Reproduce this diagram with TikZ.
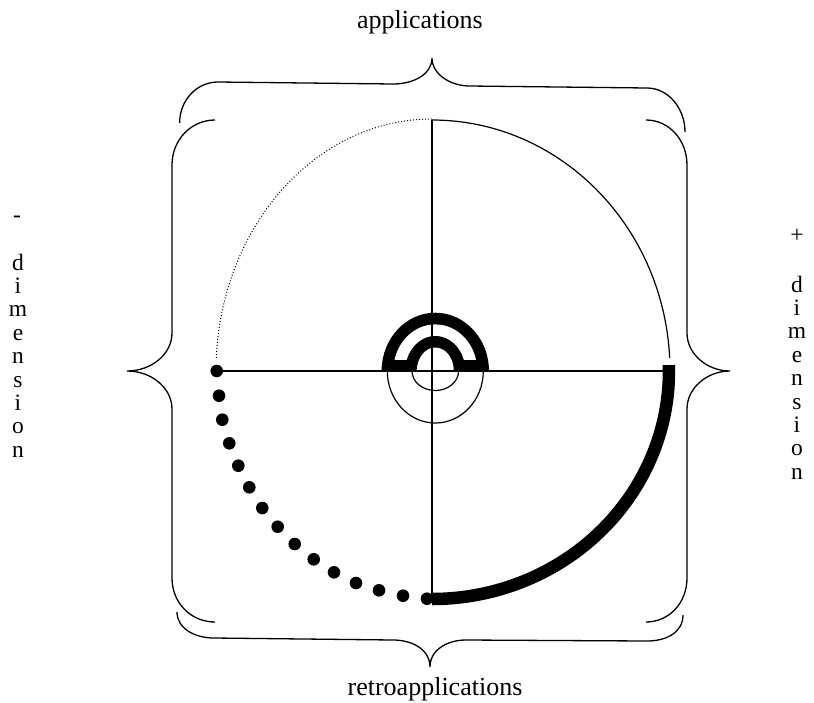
\documentclass[tikz,border=0pt]{standalone}
\usepackage{fontspec}
\setmainfont{Liberation Serif}
\begin{document}
\begin{tikzpicture}[x=1pt,y=-1pt,
  thinline/.style={line width=1.2pt, line cap=butt},
  bracestyle/.style={line width=1.3pt},
  thickarc/.style={line width=12.5pt, line cap=butt},
  lbl/.style={font=\fontsize{26}{30}\selectfont, inner sep=0pt, anchor=base},
  letter/.style={font=\fontsize{23.5}{26}\selectfont, inner sep=0pt, anchor=base}]
\useasboundingbox (0,0) rectangle (814,702);
% key points
\coordinate (C) at (432,371);
\coordinate (L) at (216,371);
\coordinate (R) at (675,371);
\coordinate (T) at (432,120);
\coordinate (B) at (432,603);
% upper-left dotted arc
\draw[line width=1pt, dash pattern=on 1pt off 2pt] (C) ++(183:216 and 252) arc[start angle=183, end angle=270, x radius=216, y radius=252];
% upper-right thin arc
\draw[thinline] (T) arc[start angle=270, end angle=357, x radius=238, y radius=251];
% lower-right thick arc
\draw[thickarc] (C) ++(-1.5:237 and 228) arc[start angle=-1.5, end angle=90, x radius=237, y radius=228];
% lower-left big dots
\foreach \px/\py in {216.7/371,219/395.7,222.3/419.7,229.3/443.3,238.3/465.7,249.3/487.3,262.3/508,277.7/526.7,294.7/544,313.7/559.3,334/572.3,356/583,379/590.3,403/595.7,427/598.7}
  \fill (\px,\py) circle[radius=6.3];
% central figure
\coordinate (M) at (435.3,371);
\fill (M) ++(-53.7,0) arc[start angle=180, end angle=360, x radius=53.7, y radius=58.3] -- cycle;
\begin{scope}
  \clip (0,0) rectangle (814,359.3);
  \fill[white] (M) ++(-42,0) arc[start angle=180, end angle=360, x radius=42, y radius=46.6] -- cycle;
\end{scope}
\fill (M) ++(-30,0) arc[start angle=180, end angle=360, x radius=30, y radius=35] -- cycle;
\fill[white] (M) ++(-18.5,0) arc[start angle=180, end angle=360, x radius=18.5, y radius=23.5] -- cycle;
\draw[thinline] (M) ++(-48,0) arc[start angle=180, end angle=0, x radius=48, y radius=52];
\draw[thinline] (M) ++(-23.3,0) arc[start angle=180, end angle=0, x radius=23.3, y radius=19.5];
% axes
\draw[thinline] (L) -- (R);
\draw[thinline] (T) -- (B);
% braces
\draw[bracestyle] (179.6,123) .. controls (179.6,100) and (197,82) .. (218,82) -- (393,84)
  .. controls (414,84) and (432,74) .. (432,58)
  .. controls (432,74) and (450,86) .. (470,86) -- (647,88)
  .. controls (668,88) and (685,108) .. (685,132);
\draw[bracestyle] (177,612) .. controls (177,628) and (194,638) .. (214,638) -- (393,640)
  .. controls (413,640) and (430,650) .. (430,667)
  .. controls (430,650) and (447,640) .. (466,640) -- (647,641)
  .. controls (667,641) and (683,632) .. (683,615);
\draw[bracestyle] (215,120) .. controls (191,120) and (172,140) .. (172,165) -- (172,333)
  .. controls (172,354) and (151.6,371) .. (127,371)
  .. controls (151.6,371) and (172,388) .. (172,409) -- (172,578)
  .. controls (172,603) and (191,622) .. (215,622);
\draw[bracestyle] (646,120) .. controls (669,120) and (687,140) .. (687,165) -- (687,333)
  .. controls (687,354) and (707,371) .. (730,371)
  .. controls (707,371) and (687,388) .. (687,409) -- (687,578)
  .. controls (687,603) and (669,622) .. (646,622);
% labels
\node[lbl] (app) at (420,28.3) {applications};
\node[lbl] (retro) at (435,695) {retroapplications};
\node[letter] (lminus) at (17,222) {-};
\foreach \ch [count=\i from 0] in {d,i,m,e,n,s,i,o,n}
  \node[letter] (lt\i) at (18,{270+23.4*\i}) {\ch};
\node[letter] (rplus) at (797,242) {+};
\foreach \ch [count=\i from 0] in {d,i,m,e,n,s,i,o,n}
  \node[letter] (rt\i) at (797,{292+23.4*\i}) {\ch};
\end{tikzpicture}
\end{document}
